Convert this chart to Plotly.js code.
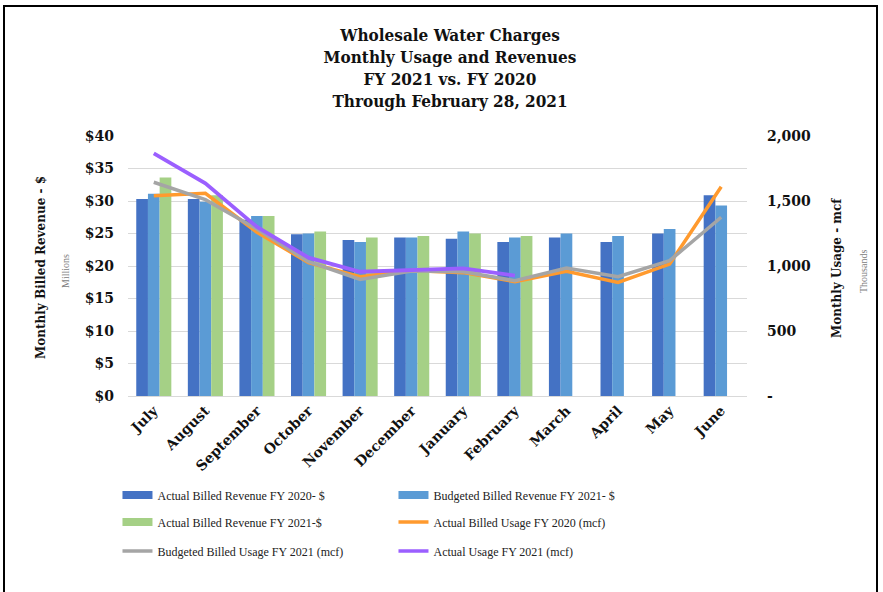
<!DOCTYPE html>
<html>
<head>
<meta charset="utf-8">
<script src="https://cdn.plot.ly/plotly-3.0.1.min.js"></script>
<style>
  html, body { margin: 0; padding: 0; background: #fff; }
  #wrap { position: relative; width: 883px; height: 592px; overflow: hidden; }
  #frame { position: absolute; left: 3px; top: 5px; width: 875px; height: 600px; border: 2px solid #000; box-sizing: border-box; pointer-events: none; z-index: 5; }
  #chart { position: absolute; left: 0; top: 0; width: 883px; height: 592px; }
</style>
</head>
<body>
<div id="wrap">
  <div id="chart"></div>
  <div id="frame"></div>
</div>
<script>
// ---- data ----
const months = ["July","August","September","October","November","December","January","February","March","April","May","June"];

const actualRevenueFY2020   = [30.3, 30.3, 27.1, 24.9, 24.0, 24.4, 24.2, 23.7, 24.4, 23.7, 25.0, 30.9];
const budgetedRevenueFY2021 = [31.1, 29.9, 27.7, 25.0, 23.7, 24.4, 25.3, 24.4, 25.0, 24.6, 25.7, 29.3];
const actualRevenueFY2021   = [33.6, 30.9, 27.7, 25.3, 24.4, 24.6, 25.0, 24.6, null, null, null, null];

const actualUsageFY2020     = [1541, 1559, 1260, 1026, 918, 966, 949, 880, 959, 874, 1015, 1610];
const budgetedUsageFY2021   = [1644, 1510, 1285, 1033, 897, 962, 955, 887, 985, 918, 1041, 1375];
const actualUsageFY2021     = [1867, 1636, 1300, 1064, 956, 972, 982, 926, null, null, null, null];

const leftTickVals  = [0, 5, 10, 15, 20, 25, 30, 35, 40];
const leftTickText  = ["$0", "$5", "$10", "$15", "$20", "$25", "$30", "$35", "$40"];
const rightTickVals = [0, 500, 1000, 1500, 2000];
const rightTickText = ["-", "500", "1,000", "1,500", "2,000"];

const names = [
  "Actual Billed Revenue FY 2020- $",
  "Budgeted Billed Revenue FY 2021- $",
  "Actual Billed Revenue FY 2021-$",
  "Actual Billed Usage FY 2020 (mcf)",
  "Budgeted Billed Usage FY 2021 (mcf)",
  "Actual Usage FY 2021 (mcf)"
];

// ---- styles ----
const C = {
  dkblue: "#4472C4",
  ltblue: "#5B9BD5",
  green:  "#A5D086",
  orange: "#FF9A2E",
  gray:   "#A5A5A5",
  purple: "#9B5FFF"
};
const SERIF = "Liberation Serif, DejaVu Serif, serif";
const WIDE  = "DejaVu Serif, serif";
const COND  = "DejaVu Serif Condensed, DejaVu Serif, serif";

const traces = [
  {type: "bar", x: months, y: actualRevenueFY2020, name: names[0], marker: {color: C.dkblue}, showlegend: false, yaxis: "y"},
  {type: "bar", x: months, y: budgetedRevenueFY2021, name: names[1], marker: {color: C.ltblue}, showlegend: false, yaxis: "y"},
  {type: "bar", x: months, y: actualRevenueFY2021, name: names[2], marker: {color: C.green}, showlegend: false, yaxis: "y"},
  {type: "scatter", mode: "lines", x: months, y: actualUsageFY2020, name: names[3], line: {color: C.orange, width: 3.5}, yaxis: "y2", showlegend: false},
  {type: "scatter", mode: "lines", x: months, y: budgetedUsageFY2021, name: names[4], line: {color: C.gray, width: 3.5}, yaxis: "y2", showlegend: false},
  {type: "scatter", mode: "lines", x: months, y: actualUsageFY2021, name: names[5], line: {color: C.purple, width: 3.8}, yaxis: "y2", showlegend: false, connectgaps: false}
];

// legend keys only (no data), laid out in three rows of two
const legendKeys = [
  {name: names[0], color: C.dkblue, w: 8, lg: "legend"},
  {name: names[1], color: C.ltblue, w: 8, lg: "legend"},
  {name: names[2], color: C.green,  w: 8, lg: "legend2"},
  {name: names[3], color: C.orange, w: 3.5, lg: "legend2"},
  {name: names[4], color: C.gray,   w: 3.5, lg: "legend3"},
  {name: names[5], color: C.purple, w: 3.5, lg: "legend3"}
];
legendKeys.forEach(k => traces.push({
  type: "scatter", mode: "lines", x: [null], y: [null], name: k.name,
  line: {color: k.color, width: k.w}, legend: k.lg, showlegend: true, hoverinfo: "skip"
}));

const legendBase = {
  orientation: "h", xanchor: "left", yanchor: "middle",
  entrywidth: 231, entrywidthmode: "pixels",
  itemwidth: 30,
  font: {family: SERIF, size: 12, color: "#222"},
  bgcolor: "rgba(0,0,0,0)", borderwidth: 0, traceorder: "normal"
};
const plotTop = 136, plotBot = 396, plotH = plotBot - plotTop;
const py = (pix) => (plotBot - pix) / plotH;
const legX = -0.017;

const layout = {
  width: 883, height: 592,
  margin: {l: 128, r: 136, t: 136, b: 196, pad: 0},
  paper_bgcolor: "#fff", plot_bgcolor: "#fff",
  barmode: "group", bargap: 0.32, bargroupgap: 0,
  showlegend: true,
  title: {
    text: "<b>Wholesale Water Charges<br>Monthly Usage and Revenues<br>FY 2021 vs. FY 2020<br>Through February 28, 2021</b>",
    font: {family: COND, size: 17, color: "#111"},
    x: 450 / 883, xref: "container", xanchor: "center",
    y: 1 - 41 / 592, yref: "container", yanchor: "top"
  },
  xaxis: {
    type: "category", tickangle: -45, showgrid: false, zeroline: false,
    showline: true, linecolor: "#d9d9d9", linewidth: 1,
    tickfont: {family: WIDE, size: 14, color: "#111", weight: "bold"},
    ticks: "", automargin: false
  },
  yaxis: {
    range: [0, 40], tickmode: "array", tickvals: leftTickVals, ticktext: leftTickText,
    tickfont: {family: WIDE, size: 14, color: "#111", weight: "bold"},
    gridcolor: "#d9d9d9", gridwidth: 1, zeroline: false, showline: false,
    ticks: "", ticklabelstandoff: 13, automargin: false, fixedrange: true
  },
  yaxis2: {
    range: [0, 2000], overlaying: "y", side: "right",
    tickmode: "array", tickvals: rightTickVals, ticktext: rightTickText,
    tickfont: {family: WIDE, size: 14, color: "#111", weight: "bold"},
    showgrid: false, zeroline: false, showline: false,
    ticks: "", ticklabelstandoff: 19, automargin: false
  },
  legend:  Object.assign({}, legendBase, {x: legX, y: py(495)}),
  legend2: Object.assign({}, legendBase, {x: legX, y: py(522)}),
  legend3: Object.assign({}, legendBase, {x: legX, y: py(551)}),
  annotations: [
    {text: "<b>Monthly Billed Revenue - $</b>", xref: "paper", yref: "paper", x: (41 - 128) / 619, y: py(268),
     xanchor: "center", yanchor: "middle", textangle: -90, showarrow: false,
     font: {family: WIDE, size: 12, color: "#111"}},
    {text: "Millions", xref: "paper", yref: "paper", x: (65 - 128) / 619, y: py(271),
     xanchor: "center", yanchor: "middle", textangle: -90, showarrow: false,
     font: {family: SERIF, size: 10, color: "#808080"}},
    {text: "<b>Monthly Usage - mcf</b>", xref: "paper", yref: "paper", x: (837 - 128) / 619, y: py(268),
     xanchor: "center", yanchor: "middle", textangle: -90, showarrow: false,
     font: {family: WIDE, size: 12, color: "#111"}},
    {text: "Thousands", xref: "paper", yref: "paper", x: (863 - 128) / 619, y: py(272),
     xanchor: "center", yanchor: "middle", textangle: -90, showarrow: false,
     font: {family: SERIF, size: 10, color: "#808080"}}
  ]
};

Plotly.newPlot("chart", traces, layout, {displayModeBar: false, staticPlot: true});
</script>
</body>
</html>
